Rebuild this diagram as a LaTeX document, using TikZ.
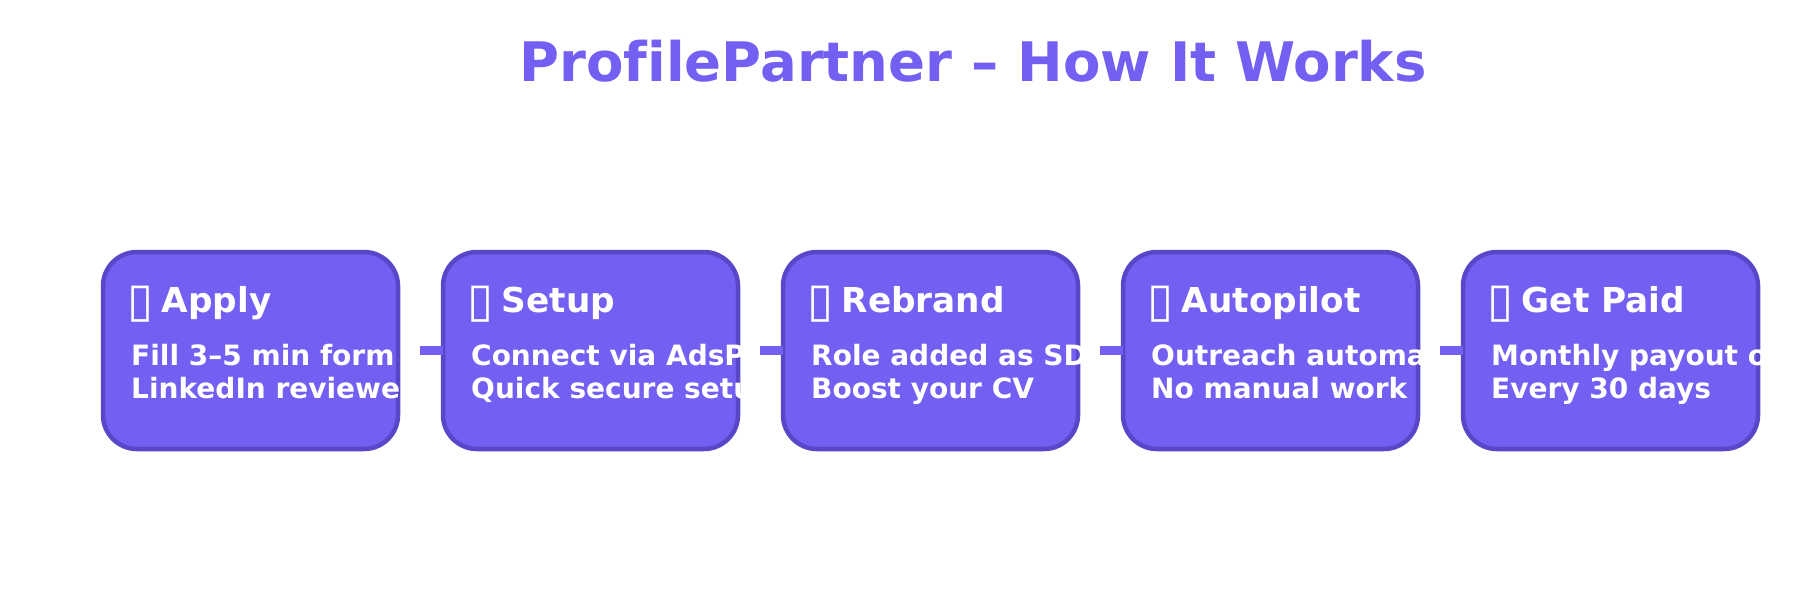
\documentclass[tikz,border=0pt]{standalone}
\usepackage{fontspec}
\setmainfont{DejaVu Sans}[Ligatures=NoCommon]
\definecolor{fillp}{HTML}{7360F2}
\definecolor{edgep}{HTML}{5847C8}
\newcommand{\tofuicon}{\makebox[30.5pt][l]{\hspace*{-4pt}\raisebox{-4pt}{\scalebox{1.38}{\mdseries ▯}}}}
\begin{document}
\begin{tikzpicture}[x=1pt,y=-1pt,
  stepbox/.style={draw=edgep, line width=4.5pt, fill=fillp, rounded corners=34pt,
    minimum width=295pt, minimum height=197pt, inner sep=0pt, outer sep=0pt},
  headtxt/.style={anchor=base west, inner sep=0pt, text=white,
    font=\bfseries\fontsize{34.3}{40}\selectfont},
  bodytxt/.style={anchor=base west, inner sep=0pt, text=white,
    font=\bfseries\fontsize{28}{32}\selectfont},
  titletxt/.style={anchor=base, inner sep=0pt, text=fillp,
    font=\bfseries\fontsize{54.5}{60}\selectfont},
  link/.style={draw=fillp, line width=8.5pt}]
\useasboundingbox (0,0) rectangle (1800,600);
\fill[white] (0,0) rectangle (1800,600);

\node[titletxt] (title) at (973,81) {ProfilePartner – How It Works};

% connector start points
\coordinate (c1) at (420,350.5);
\coordinate (c2) at (760,350.5);
\coordinate (c3) at (1100,350.5);
\coordinate (c4) at (1440,350.5);

\node[stepbox] (b1) at (250.5,350.5) {};
\node[stepbox] (b2) at (590.5,350.5) {};
\node[stepbox] (b3) at (930.5,350.5) {};
\node[stepbox] (b4) at (1270.5,350.5) {};
\node[stepbox] (b5) at (1610.5,350.5) {};

\draw[link] (c1) -- (b2.west);
\draw[link] (c2) -- (b3.west);
\draw[link] (c3) -- (b4.west);
\draw[link] (c4) -- (b5.west);

\begin{scope}
\clip (101,250) rectangle (400,451);
\node[headtxt] (h1) at (131,312) {\tofuicon Apply};
\node[bodytxt] (l1a) at (131,365.7) {Fill 3–5 min form};
\node[bodytxt] (l1b) at (131,398.3) {LinkedIn reviewe};
\end{scope}

\begin{scope}
\clip (441,250) rectangle (740,451);
\node[headtxt] (h2) at (471,312) {\tofuicon Setup};
\node[bodytxt] (l2a) at (471,365.7) {Connect via AdsP};
\node[bodytxt] (l2b) at (471,398.3) {Quick secure setu};
\end{scope}

\begin{scope}
\clip (781,250) rectangle (1080,451);
\node[headtxt] (h3) at (811,312) {\tofuicon Rebrand};
\node[bodytxt] (l3a) at (811,365.7) {Role added as SD};
\node[bodytxt] (l3b) at (811,398.3) {Boost your CV};
\end{scope}

\begin{scope}
\clip (1121,250) rectangle (1420,451);
\node[headtxt] (h4) at (1151,312) {\tofuicon Autopilot};
\node[bodytxt] (l4a) at (1151,365.7) {Outreach automa};
\node[bodytxt] (l4b) at (1151,398.3) {No manual work};
\end{scope}

\begin{scope}
\clip (1461,250) rectangle (1760,451);
\node[headtxt] (h5) at (1491,312) {\tofuicon Get Paid};
\node[bodytxt] (l5a) at (1491,365.7) {Monthly payout o};
\node[bodytxt] (l5b) at (1491,398.3) {Every 30 days};
\end{scope}
\end{tikzpicture}
\end{document}
